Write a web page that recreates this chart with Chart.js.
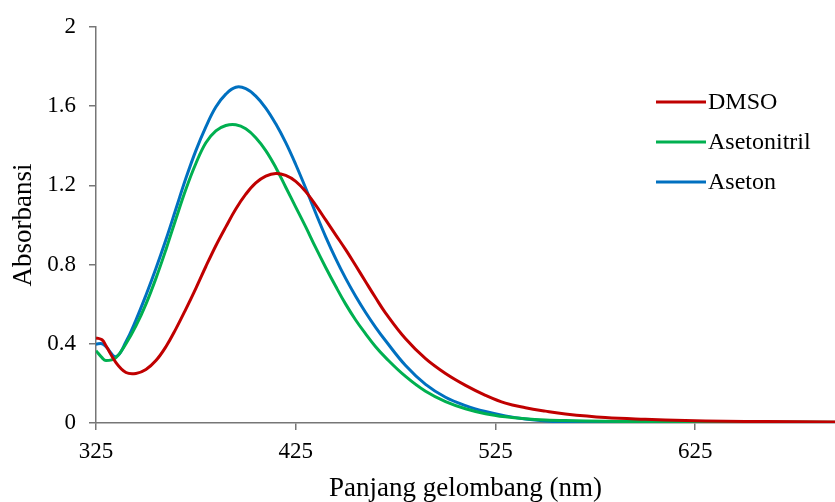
<!DOCTYPE html>
<html>
<head>
<meta charset="utf-8">
<script src="https://cdn.jsdelivr.net/npm/chart.js@4.4.1/dist/chart.umd.min.js"></script>
<style>
    body { margin: 0; background: #fff; }
    #wrap { width: 835px; height: 502px; }
</style>
</head>
<body>
<div id="wrap"><canvas id="chart-spectra" width="835" height="502"></canvas></div>
<script>
const wavelength = [
    325, 328, 330, 335, 340, 345, 350, 355, 360, 365, 370, 375, 380, 385, 390,
    395, 400, 405, 410, 415, 420, 425, 430, 435, 440, 445, 450, 455, 460, 465,
    470, 480, 490, 500, 510, 520, 530, 540, 550, 560, 580, 600, 620, 640, 660, 695
];

const dmso = [
    0.43, 0.42, 0.39, 0.305, 0.255, 0.25, 0.27, 0.315, 0.385, 0.475, 0.575, 0.68, 0.79, 0.895, 0.99,
    1.08, 1.155, 1.212, 1.246, 1.26, 1.25, 1.22, 1.168, 1.10, 1.025, 0.95, 0.875, 0.795, 0.713, 0.632,
    0.555, 0.425, 0.325, 0.25, 0.19, 0.14, 0.10, 0.077, 0.06, 0.046, 0.028, 0.019, 0.013, 0.009, 0.007, 0.005
];

const asetonitril = [
    0.365, 0.33, 0.315, 0.33, 0.40, 0.49, 0.60, 0.73, 0.875, 1.03, 1.18, 1.31, 1.415, 1.475, 1.502,
    1.506, 1.485, 1.44, 1.375, 1.29, 1.19, 1.09, 0.99, 0.885, 0.785, 0.69, 0.60, 0.52, 0.45, 0.385,
    0.33, 0.235, 0.16, 0.108, 0.072, 0.047, 0.031, 0.021, 0.015, 0.012, 0.009, 0.007, 0.006, 0.005, 0.005, 0.004
];

const aseton = [
    0.398, 0.40, 0.385, 0.335, 0.41, 0.52, 0.645, 0.78, 0.925, 1.08, 1.235, 1.375, 1.495, 1.595, 1.66,
    1.695, 1.688, 1.65, 1.59, 1.51, 1.415, 1.305, 1.185, 1.06, 0.94, 0.83, 0.73, 0.64, 0.558, 0.483,
    0.415, 0.29, 0.195, 0.13, 0.088, 0.058, 0.036, 0.02, 0.01, 0.005, 0.002, 0.001, 0.001, 0.001, 0.001, 0.001
];

const xTicks = [325, 425, 525, 625];
const yTicks = [0, 0.4, 0.8, 1.2, 1.6, 2];

const axisColor = '#767676';
const serif = '"Liberation Serif", "Times New Roman", serif';

function points(values) {
    return wavelength.map((w, i) => ({ x: w, y: values[i] }));
}

function series(label, values, color) {
    return {
        label: label,
        data: points(values),
        borderColor: color,
        backgroundColor: color,
        borderWidth: 3,
        pointRadius: 0,
        tension: 0.4,
        fill: false,
    };
}

// legend drawn inside the plot, right side
const insideLegend = {
    id: 'insideLegend',
    afterDraw(chart) {
        const ctx = chart.ctx;
        const rows = [102, 142, 182];
        ctx.save();
        ctx.font = '24px ' + serif;
        ctx.textBaseline = 'middle';
        ctx.fillStyle = '#000';
        chart.data.datasets.forEach((ds, i) => {
            ctx.strokeStyle = ds.borderColor;
            ctx.lineWidth = 3;
            ctx.beginPath();
            ctx.moveTo(656, rows[i]);
            ctx.lineTo(706, rows[i]);
            ctx.stroke();
            ctx.fillText(ds.label, 708, rows[i] + 1);
        });
        ctx.restore();
    }
};

const config = {
    type: 'line',
    data: {
        datasets: [
            series('DMSO', dmso, '#C00000'),
            series('Asetonitril', asetonitril, '#00B050'),
            series('Aseton', aseton, '#0070C0'),
        ]
    },
    options: {
        responsive: false,
        animation: false,
        layout: { padding: { top: 21, right: 0, left: 0, bottom: 0 } },
        plugins: {
            legend: { display: false },
            tooltip: { enabled: false },
        },
        scales: {
            x: {
                type: 'linear',
                min: 325,
                max: 695,
                afterBuildTicks: (scale) => {
                    scale.ticks = xTicks.map(v => ({ value: v }));
                },
                afterFit: (scale) => { scale.height = 79; },
                grid: { drawOnChartArea: false, tickLength: 7, color: axisColor, lineWidth: 1.5 },
                border: { color: axisColor, width: 1.5 },
                ticks: {
                    color: '#000',
                    padding: 8,
                    maxRotation: 0,
                    font: { family: serif, size: 23 },
                    callback: (v) => String(v),
                },
                title: {
                    display: true,
                    text: 'Panjang gelombang (nm)',
                    color: '#000',
                    font: { family: serif, size: 27 },
                    padding: { top: 0, bottom: -3 },
                },
            },
            y: {
                min: 0,
                max: 2,
                afterBuildTicks: (scale) => {
                    scale.ticks = yTicks.map(v => ({ value: v }));
                },
                afterFit: (scale) => { scale.width = 96; },
                grid: { drawOnChartArea: false, tickLength: 7, color: axisColor, lineWidth: 1.5 },
                border: { color: axisColor, width: 1.5 },
                ticks: {
                    color: '#000',
                    padding: 13,
                    font: { family: serif, size: 23 },
                    callback: (v) => String(v),
                },
                title: {
                    display: true,
                    text: 'Absorbansi',
                    color: '#000',
                    font: { family: serif, size: 27 },
                    padding: { top: 8, bottom: 0 },
                },
            },
        },
    },
    plugins: [insideLegend],
};

const spectraChart = new Chart(document.getElementById('chart-spectra'), config);
</script>
</body>
</html>
